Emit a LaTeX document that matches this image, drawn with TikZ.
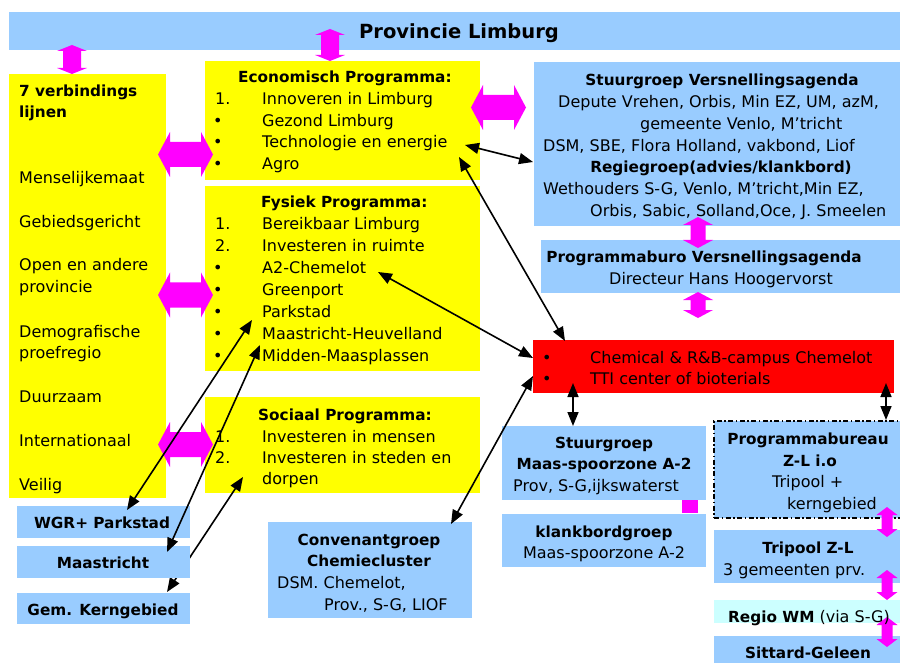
\documentclass[tikz,border=0pt]{standalone}
\usepackage{fontspec}
\setmainfont{DejaVu Sans}
\usetikzlibrary{arrows.meta}
\definecolor{lblue}{HTML}{99CCFF}
\definecolor{ylw}{HTML}{FFFF00}
\definecolor{rd}{HTML}{FF0000}
\definecolor{mag}{HTML}{FF00FF}
\definecolor{cyanl}{HTML}{CCFFFF}
\newcommand{\magV}[6]{\fill[mag] (#1,#2) -- ({#1+#4},{#2+#6}) -- ({#1+#5},{#2+#6}) -- ({#1+#5},{#3-#6}) -- ({#1+#4},{#3-#6}) -- (#1,#3) -- ({#1-#4},{#3-#6}) -- ({#1-#5},{#3-#6}) -- ({#1-#5},{#2+#6}) -- ({#1-#4},{#2+#6}) -- cycle;}
\newcommand{\magH}[6]{\fill[mag] (#2,#1) -- ({#2+#6},{#1-#4}) -- ({#2+#6},{#1-#5}) -- ({#3-#6},{#1-#5}) -- ({#3-#6},{#1-#4}) -- (#3,#1) -- ({#3-#6},{#1+#4}) -- ({#3-#6},{#1+#5}) -- ({#2+#6},{#1+#5}) -- ({#2+#6},{#1+#4}) -- cycle;}
\tikzset{
 box/.style={draw=none, inner sep=0pt, outer sep=0pt, anchor=north west},
 bl/.style={box, fill=lblue},
 yl/.style={box, fill=ylw},
 tx/.style={inner sep=0pt, anchor=base west, font=\fontsize{16}{19}\selectfont},
 txc/.style={tx, anchor=base},
 tb/.style={inner sep=0pt, anchor=base west, font=\fontsize{15.3}{18}\selectfont\bfseries},
 tbc/.style={tb, anchor=base},
 conn/.style={line width=1.6pt, {Triangle[length=14pt,width=11pt]}-{Triangle[length=14pt,width=11pt]}},
}
\begin{document}
\begin{tikzpicture}[x=1pt,y=-1pt]
\useasboundingbox (0,0) rectangle (900,663);
\clip (0,0) rectangle (900,663);
\fill[white] (0,0) rectangle (900,663);
% boxes
\node[bl, minimum width=893pt, minimum height=38pt] (title) at (9,12) {};
\node[yl, minimum width=157pt, minimum height=424pt] (left) at (9,74) {};
\node[yl, minimum width=275pt, minimum height=119pt] (econ) at (205,61) {};
\node[yl, minimum width=275pt, minimum height=185pt] (fys) at (205,186) {};
\node[yl, minimum width=275pt, minimum height=96pt] (soc) at (205,397) {};
\node[bl, minimum width=368pt, minimum height=164pt] (sva) at (534,62) {};
\node[bl, minimum width=361pt, minimum height=53pt] (pbv) at (541,240) {};
\node[box, fill=rd, minimum width=361pt, minimum height=53pt] (red) at (533,340) {};
\node[bl, minimum width=204pt, minimum height=74pt] (smz) at (502,426) {};
\node[bl, minimum width=204pt, minimum height=53pt] (kbg) at (502,514) {};
\node[bl, draw=black, line width=1.3pt, dash pattern=on 5pt off 2.5pt on 1.5pt off 2.5pt, minimum width=191pt, minimum height=97pt] (pbz) at (714,421) {};
\node[bl, minimum width=188pt, minimum height=53pt] (tzl) at (714,530) {};
\node[box, fill=cyanl, minimum width=188pt, minimum height=23pt] (rwm) at (714,600) {};
\node[bl, minimum width=188pt, minimum height=34pt] (sg) at (714,636) {};
\node[bl, minimum width=204pt, minimum height=96pt] (conv) at (268,522) {};
\node[bl, minimum width=173pt, minimum height=32pt] (wgr) at (17,506) {};
\node[bl, minimum width=173pt, minimum height=31pt] (gem) at (17,593) {};
\fill[mag] (682,500) rectangle (698,513);
% magenta block arrows
\magV{72}{45}{74}{15}{9}{6}
\magV{330}{29}{61}{15}{9}{6}
\magH{154.5}{158}{213}{22.5}{12.5}{12}
\magH{295}{158}{213}{22.5}{12.5}{12}
\magH{444.5}{158}{213}{22.5}{12.5}{12}
\magH{107.5}{471}{526}{22.5}{12.5}{12}
\magV{698}{217}{248}{15}{7.5}{8}
\magV{698}{292}{318}{15}{7.5}{8}
\magV{887}{507}{537}{10.5}{5.5}{8}
\magV{887}{570}{600}{10.5}{5.5}{8}
\magV{887}{617}{647}{10.5}{5.5}{8}
% texts
\node[inner sep=0pt, anchor=base, font=\fontsize{19.5}{22}\selectfont\bfseries] (ttl) at (459,39) {Provincie Limburg};
\node[tb] (l1) at (19,97) {7 verbindings};
\node[tb] (l2) at (19,118) {lijnen};
\node[tx] (l3) at (19,184) {Menselijkemaat};
\node[tx] (l4) at (19,228) {Gebiedsgericht};
\node[tx] (l5) at (19,271) {Open en andere};
\node[tx] (l6) at (19,293) {provincie};
\node[tx] (l7) at (19,337) {Demografische};
\node[tx] (l8) at (19,358) {proefregio};
\node[tx] (l9) at (19,402) {Duurzaam};
\node[tx] (l10) at (19,446) {Internationaal};
\node[tx] (l11) at (19,490) {Veilig};
%econ
\node[tb] (e0) at (238,83) {Economisch Programma:};
\node[tx] (e1n) at (215,105) {1.};
\node[tx] (e1) at (262,105) {Innoveren in Limburg};
\node[tx] (e2n) at (213,127) {•};
\node[tx] (e2) at (262,127) {Gezond Limburg};
\node[tx] (e3n) at (213,148) {•};
\node[tx] (e3) at (262,148) {Technologie en energie};
\node[tx] (e4n) at (213,170) {•};
\node[tx] (e4) at (262,170) {Agro};
%fysiek
\node[tb] (f0) at (261,208) {Fysiek Programma:};
\node[tx] (f1n) at (215,230) {1.};
\node[tx] (f1) at (262,230) {Bereikbaar Limburg};
\node[tx] (f2n) at (215,252) {2.};
\node[tx] (f2) at (262,252) {Investeren in ruimte};
\node[tx] (f3n) at (213,273) {•};
\node[tx] (f3) at (262,273) {A2-Chemelot};
\node[tx] (f4n) at (213,295) {•};
\node[tx] (f4) at (262,295) {Greenport};
\node[tx] (f5n) at (213,317) {•};
\node[tx] (f5) at (262,317) {Parkstad};
\node[tx] (f6n) at (213,339) {•};
\node[tx] (f6) at (262,339) {Maastricht-Heuvelland};
\node[tx] (f7n) at (213,361) {•};
\node[tx] (f7) at (262,361) {Midden-Maasplassen};
%sociaal
\node[tb] (s0) at (258,420) {Sociaal Programma:};
\node[tx] (s1n) at (215,442) {1.};
\node[tx] (s1) at (262,442) {Investeren in mensen};
\node[tx] (s2n) at (215,463) {2.};
\node[tx] (s2) at (262,463) {Investeren in steden en};
\node[tx] (s3) at (262,484) {dorpen};
%stuurgroep versnellingsagenda
\node[tbc] (v1) at (722,86) {Stuurgroep Versnellingsagenda};
\node[tx] (v2) at (558,108) {Depute Vrehen, Orbis, Min EZ, UM, azM,};
\node[tx] (v3) at (640,130) {gemeente Venlo, M’tricht};
\node[tx] (v4) at (543,152) {DSM, SBE, Flora Holland, vakbond, Liof};
\node[tbc] (v5) at (721,173) {Regiegroep(advies/klankbord)};
\node[tx] (v6) at (543,195) {Wethouders S-G, Venlo, M’tricht,Min EZ,};
\node[tx] (v7) at (590,217) {Orbis, Sabic, Solland,Oce, J. Smeelen};
%programmaburo
\node[tbc] (p1) at (704,263) {Programmaburo Versnellingsagenda};
\node[tx] (p2) at (609,285) {Directeur Hans Hoogervorst};
%red
\node[tx] (r1n) at (542,363) {•};
\node[tx] (r1) at (590,363) {Chemical \& R\&B-campus Chemelot};
\node[tx] (r2n) at (542,384) {•};
\node[tx] (r2) at (590,384) {TTI center of bioterials};
%maas-spoorzone
\node[tbc] (m1) at (604,448) {Stuurgroep};
\node[tbc] (m2) at (604,469) {Maas-spoorzone A-2};
\node[tx] (m3) at (513,491) {Prov, S-G,ijkswaterst};
\node[tbc] (k1) at (604,537) {klankbordgroep};
\node[txc] (k2) at (604,558) {Maas-spoorzone A-2};
%programmabureau
\node[tbc] (z1) at (808,444) {Programmabureau};
\node[tbc] (z2) at (810,466) {Z-L i.o};
\node[tx] (z3) at (772,487) {Tripool +};
\node[tx] (z4) at (787,509) {kerngebied};
\node[tbc] (t1) at (808,553) {Tripool Z-L};
\node[tx] (t2) at (723,575) {3 gemeenten prv.};
\node[tx] (rw) at (728,622) {{\fontsize{15.3}{18}\selectfont\bfseries Regio WM} (via S-G)};
\node[tbc] (sgt) at (808,658) {Sittard-Geleen};
%convenant
\node[tbc] (c1) at (369,545) {Convenantgroep};
\node[tbc] (c2) at (369,566) {Chemiecluster};
\node[tx] (c3) at (277,588) {DSM. Chemelot,};
\node[tx] (c4) at (324,610) {Prov., S-G, LIOF};
%left bottom
\node[tbc] (w1) at (102,528) {WGR+ Parkstad};
\node[tbc] (g1) at (103,615) {Gem. Kerngebied};
% connector endpoints
\coordinate (a1s) at (465,145); \coordinate (a1e) at (533,162);
\coordinate (a2s) at (459,157); \coordinate (a2e) at (565,341);
\coordinate (a3s) at (378,272); \coordinate (a3e) at (533,358);
\coordinate (a4s) at (451,524); \coordinate (a4e) at (533,376);
\coordinate (a5s) at (252,320); \coordinate (a5e) at (127,510);
\coordinate (a6s) at (260,345); \coordinate (a6e) at (167,552);
\coordinate (a7s) at (243,477); \coordinate (a7e) at (167,592);
\coordinate (a8s) at (573,383); \coordinate (a8e) at (573,426);
\coordinate (a9s) at (886,383); \coordinate (a9e) at (886,420);
% arrow hidden behind Maastricht box
\draw[conn] (a7s) -- (a7e);
\node[bl, minimum width=173pt, minimum height=32pt] (maas) at (17,546) {};
\node[tbc] (ma1) at (103,568) {Maastricht};
% black connectors
\draw[conn] (a1s) -- (a1e);
\draw[conn] (a2s) -- (a2e);
\draw[conn] (a3s) -- (a3e);
\draw[conn] (a4s) -- (a4e);
\draw[conn] (a5s) -- (a5e);
\draw[conn] (a6s) -- (a6e);
\draw[conn] (a8s) -- (a8e);
\draw[conn] (a9s) -- (a9e);
\end{tikzpicture}
\end{document}
